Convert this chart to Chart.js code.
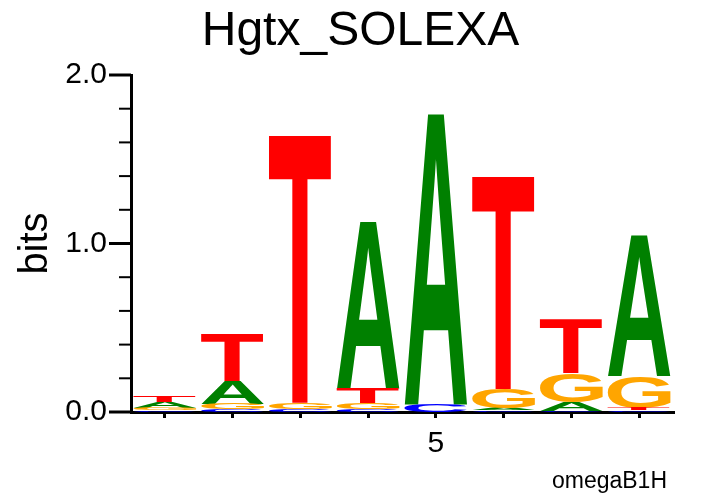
<!DOCTYPE html>
<html>
<head>
<meta charset="utf-8">
<script src="https://cdn.jsdelivr.net/npm/chart.js@4.4.1/dist/chart.umd.min.js"></script>
<style>
  html, body { margin: 0; padding: 0; background: #fff; }
  #wrap { width: 721px; height: 496px; }
</style>
</head>
<body>
<div id="wrap"><canvas id="logo"></canvas></div>
<script>
// positions along the motif and information content (bits) of each base
const positions = [1, 2, 3, 4, 5, 6, 7, 8];
const letters = ["A", "C", "G", "T"];
const bitsA = [0.035, 0.135, 0.000, 1.005, 1.750, 0.012, 0.050, 0.850];
const bitsC = [0.010, 0.015, 0.015, 0.015, 0.045, 0.009, 0.008, 0.010];
const bitsG = [0.015, 0.035, 0.040, 0.040, 0.000, 0.115, 0.175, 0.190];
const bitsT = [0.040, 0.285, 1.610, 0.090, 0.000, 1.280, 0.325, 0.012];
const yTickLabels = ["0.0", "1.0", "2.0"];

const colors = { A: "#008000", C: "#0000ff", G: "#ffa500", T: "#ff0000" };
const heights = { A: bitsA, C: bitsC, G: bitsG, T: bitsT };

// stack the letters in each column, smallest at the bottom
const stacks = { A: [], C: [], G: [], T: [] };
positions.forEach((p, j) => {
  const order = letters.slice().sort((a, b) => heights[a][j] - heights[b][j]);
  let base = 0;
  order.forEach(l => {
    stacks[l].push([base, base + heights[l][j]]);
    base += heights[l][j];
  });
});

const FONT = '"Liberation Sans", Arial, Helvetica, sans-serif';
Chart.defaults.font.family = FONT;
Chart.defaults.color = "#000";

// draws each bar as a stretched letter
const glyphs = {
  id: "glyphs",
  afterDatasetsDraw(chart) {
    const ctx = chart.ctx;
    chart.data.datasets.forEach((ds, i) => {
      chart.getDatasetMeta(i).data.forEach(el => {
        const top = Math.min(el.y, el.base);
        const h = Math.abs(el.base - el.y);
        if (h < 0.5) return;
        const left = el.x - el.width / 2;
        ctx.save();
        ctx.font = "bold 100px " + FONT;
        ctx.textAlign = "left";
        ctx.textBaseline = "alphabetic";
        const m = ctx.measureText(ds.label);
        const gw = m.actualBoundingBoxLeft + m.actualBoundingBoxRight;
        const gh = m.actualBoundingBoxAscent + m.actualBoundingBoxDescent;
        ctx.translate(left, top);
        ctx.scale(el.width / gw, h / gh);
        ctx.fillStyle = colors[ds.label];
        ctx.fillText(ds.label, m.actualBoundingBoxLeft, m.actualBoundingBoxAscent);
        ctx.restore();
      });
    });
  }
};

// y tick marks (long at whole bits, short every 0.2) and the footer text
const extras = {
  id: "extras",
  afterDraw(chart) {
    const ctx = chart.ctx;
    const s = chart.scales.y;
    ctx.save();
    ctx.strokeStyle = "#000";
    for (let k = 0; k <= 10; k++) {
      const py = s.getPixelForValue(k * 0.2);
      const major = k % 5 === 0;
      ctx.lineWidth = major ? 3 : 2;
      ctx.beginPath();
      ctx.moveTo(s.right - (major ? 22 : 12), py);
      ctx.lineTo(s.right, py);
      ctx.stroke();
    }
    ctx.font = "23px " + FONT;
    ctx.textAlign = "right";
    ctx.textBaseline = "alphabetic";
    ctx.fillStyle = "#000";
    ctx.fillText("omegaB1H", chart.chartArea.right - 6, chart.height - 8);
    ctx.restore();
  }
};

new Chart(document.getElementById("logo"), {
  type: "bar",
  data: {
    labels: positions,
    datasets: letters.map(l => ({
      label: l,
      data: stacks[l],
      backgroundColor: "rgba(0,0,0,0)",
      borderWidth: 0
    }))
  },
  options: {
    responsive: true,
    maintainAspectRatio: false,
    animation: false,
    layout: { padding: 0 },
    datasets: { bar: { grouped: false, barPercentage: 0.93, categoryPercentage: 1 } },
    plugins: {
      legend: { display: false },
      tooltip: { enabled: false },
      title: {
        display: true,
        text: "Hgtx_SOLEXA",
        color: "#000",
        font: { size: 48, weight: "normal" },
        padding: { top: 3, bottom: 14.4 }
      }
    },
    scales: {
      x: {
        z: 1,
        offset: true,
        grid: { display: true, drawOnChartArea: false, offset: false, tickLength: 6, lineWidth: 3, color: "#000" },
        border: { display: true, width: 3, color: "#000" },
        ticks: {
          padding: 8,
          maxRotation: 0,
          autoSkip: false,
          font: { size: 30 },
          callback: (v, i) => (positions[i] % 5 === 0 ? String(positions[i]) : "")
        },
        afterFit: s => { s.height = 84; }
      },
      y: {
        z: 1,
        min: 0,
        max: 2,
        grid: { display: false, drawTicks: false },
        border: { display: true, width: 3, color: "#000" },
        ticks: {
          stepSize: 1,
          padding: 24,
          font: { size: 30 },
          callback: v => yTickLabels[Math.round(v)]
        },
        title: {
          display: true,
          text: "bits",
          color: "#000",
          font: { size: 40 },
          padding: { top: 12, bottom: 0 }
        },
        afterFit: s => { s.width = 131; }
      },
      // empty right-hand margin so the title stays centred on the page
      margin: {
        position: "right",
        display: true,
        min: 0,
        max: 2,
        grid: { display: false, drawTicks: false },
        border: { display: false },
        ticks: { display: false },
        afterFit: s => { s.width = 48; }
      }
    }
  },
  plugins: [glyphs, extras]
});
</script>
</body>
</html>
